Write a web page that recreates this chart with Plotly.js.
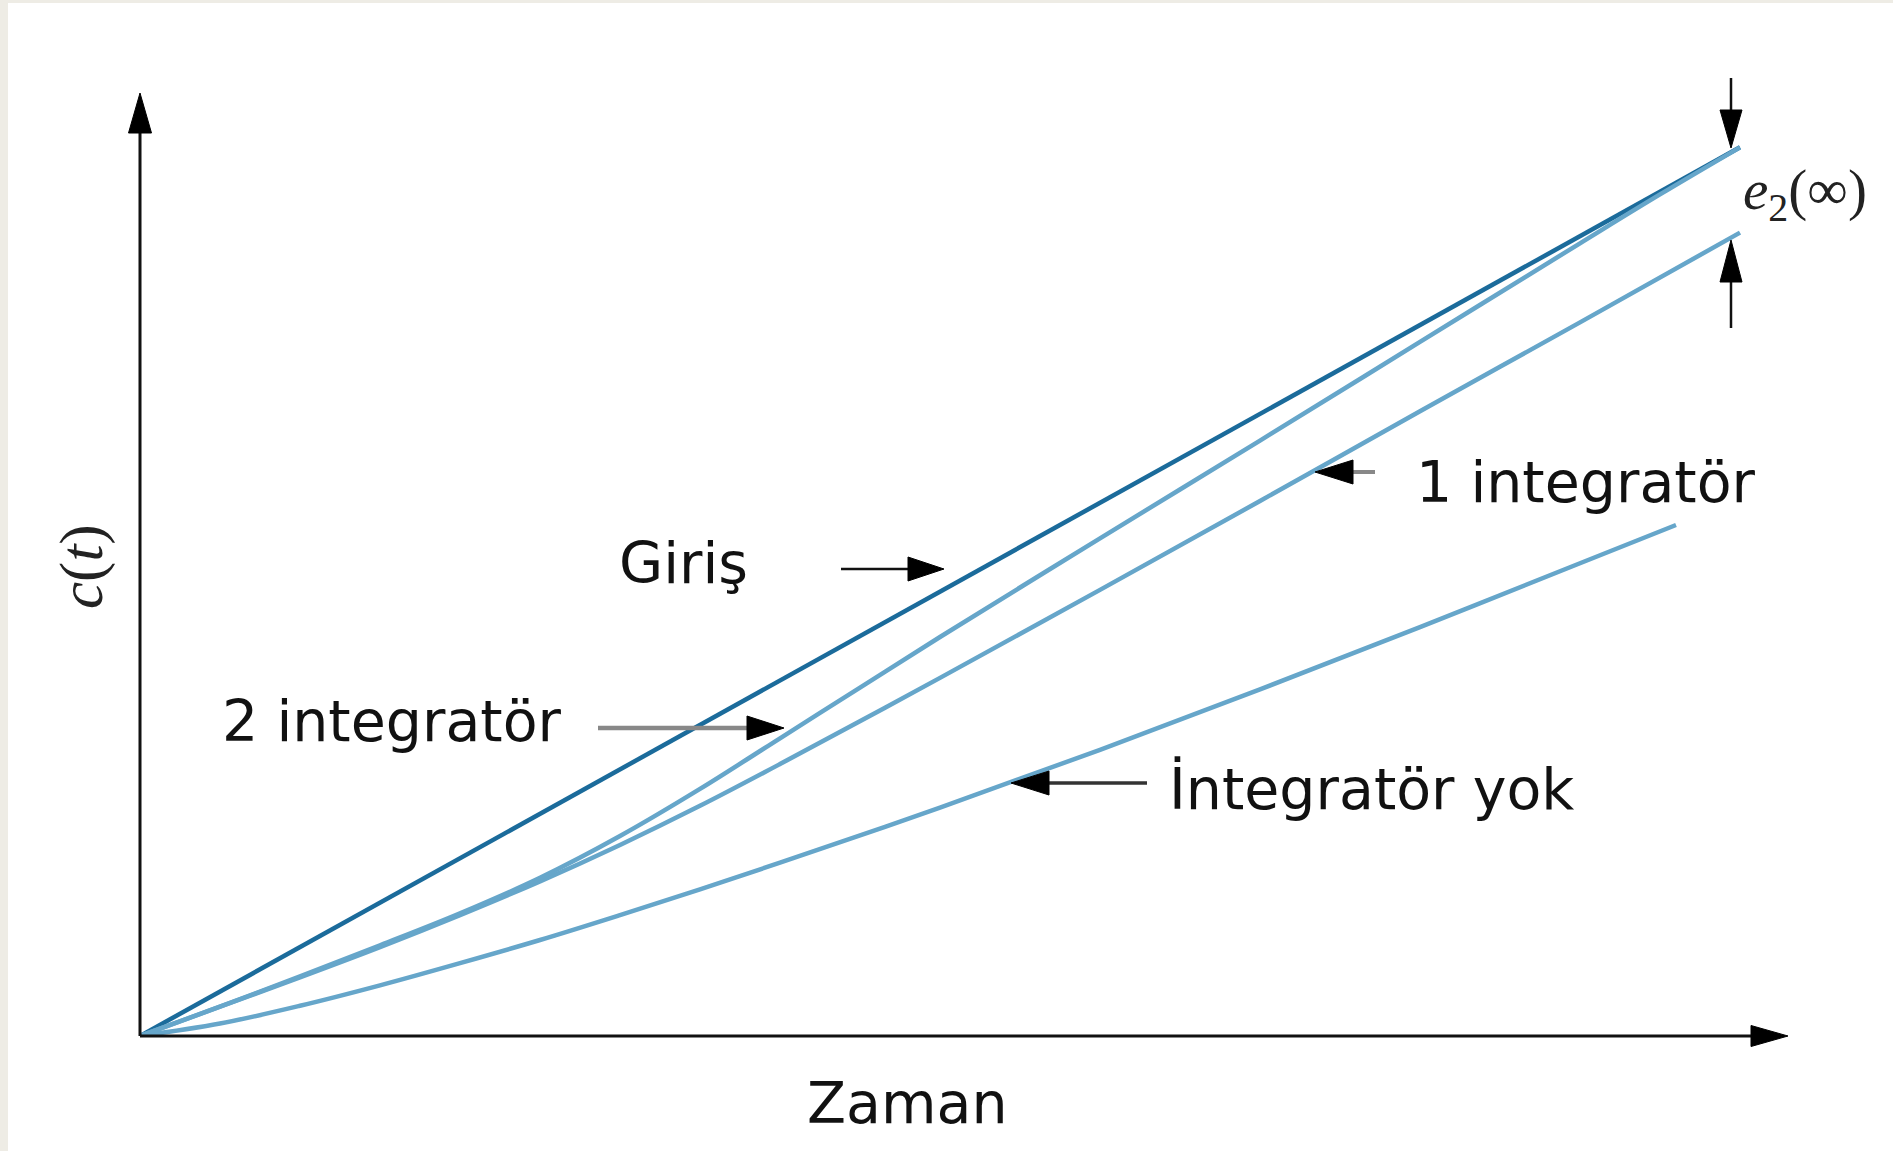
<!DOCTYPE html>
<html><head><meta charset="utf-8">
<script src="https://cdn.plot.ly/plotly-3.0.1.min.js"></script>
<style>html,body{margin:0;padding:0;background:#fff;} #chart{width:1893px;height:1151px;}</style>
</head><body><div id="chart"></div><script>
// ---- data ----
const tValues   = [0, 0.5, 1, 1.5, 2, 2.5, 3, 3.5, 4, 5, 6, 7, 8, 9, 10];
const girisVals = [0, 0.5, 1, 1.5, 2, 2.5, 3, 3.5, 4, 5, 6, 7, 8, 9, 10];
const int1Vals  = [0, 0.33, 0.66, 1.00, 1.36, 1.74, 2.15, 2.59, 3.06, 4.03, 5.02, 6.02, 7.03, 8.03, 9.04];
const tInt2     = [0, 0.5, 1, 1.5, 2, 2.5, 3, 3.5, 4, 4.5, 5, 6, 7, 8, 9, 9.5, 10];
const int2Vals  = [0, 0.33, 0.67, 1.02, 1.38, 1.78, 2.25, 2.78, 3.35, 3.92, 4.49, 5.60, 6.70, 7.81, 8.92, 9.47, 10.0];
const tNoInt    = [0, 0.5, 1, 1.5, 2, 2.5, 3, 3.5, 4, 5, 6, 7, 8, 9, 9.6];
const noIntVals = [0, 0.14, 0.34, 0.57, 0.82, 1.08, 1.36, 1.65, 1.95, 2.57, 3.22, 3.90, 4.60, 5.32, 5.75];

const labels = {giris: "Giriş", int2: "2 integratör", int1: "1 integratör", none: "İntegratör yok",
                xTitle: "Zaman", yTitle: "<i>c</i>(<i>t</i>)", err: "<i>e</i><sub>2</sub>(∞)"};

// ---- layout helpers (page pixels -> paper) ----
const L = 140, R = 1788, T = 94, B = 1036;
const px = x => (x - L) / (R - L);
const py = y => (B - y) / (B - T);
const DARK = "#1b6b9b", LIGHT = "#66a6ca";

const shapes = [];
function seg(x1, y1, x2, y2, color, width) {
  shapes.push({type: "line", xref: "paper", yref: "paper", x0: px(x1), y0: py(y1), x1: px(x2), y1: py(y2),
               line: {color: color, width: width}});
}
function arrow(sx, sy, tx, ty, headLen, half, lineColor, lineWidth) {
  const dx = tx - sx, dy = ty - sy, len = Math.hypot(dx, dy);
  const ux = dx / len, uy = dy / len, nx = -uy, ny = ux;
  const bx = tx - ux * headLen, by = ty - uy * headLen;
  seg(sx, sy, tx - ux * headLen * 0.7, ty - uy * headLen * 0.7, lineColor, lineWidth);
  const p = `M${px(tx)},${py(ty)} L${px(bx + nx * half)},${py(by + ny * half)} L${px(bx - nx * half)},${py(by - ny * half)} Z`;
  shapes.push({type: "path", xref: "paper", yref: "paper", path: p, fillcolor: "#000", line: {color: "#000", width: 1}});
}
// beige frame of the page
shapes.push({type: "rect", xref: "paper", yref: "paper", x0: px(0), x1: px(8), y0: py(1151), y1: py(0), fillcolor: "#eeece5", line: {width: 0}, layer: "below"});
shapes.push({type: "rect", xref: "paper", yref: "paper", x0: px(0), x1: px(1893), y0: py(3), y1: py(0), fillcolor: "#eeece5", line: {width: 0}, layer: "below"});

// axes
arrow(140, 1036, 140, 93, 40, 11.5, "#111", 3);
arrow(140, 1036, 1788, 1036, 37, 10.5, "#111", 3);
// label arrows
arrow(841, 569, 944, 569, 36, 12, "#111", 2.5);
arrow(598, 728, 784, 728, 37, 12, "#888", 4.5);
arrow(1375, 472, 1315, 472, 38, 12, "#888", 4);
arrow(1147, 783, 1011, 783, 38, 12, "#333", 3.5);
arrow(1731, 78, 1731, 148, 38, 11, "#111", 2.5);
arrow(1731, 328, 1731, 240, 42, 11, "#111", 2.5);

const sans = {family: "DejaVu Sans", size: 57, color: "#111"};
const serif = {family: "Liberation Serif", size: 57, color: "#222"};
const serifY = {family: "Liberation Serif", size: 61, color: "#222"};
function ann(text, x, y, xanchor, font, extra) {
  return Object.assign({text: text, xref: "paper", yref: "paper", x: px(x), y: py(y), xanchor: xanchor, yanchor: "middle",
                        showarrow: false, font: font}, extra || {});
}
const annotations = [
  ann(labels.giris, 617, 563, "left", sans),
  ann(labels.int2, 220, 721, "left", sans),
  ann(labels.int1, 1414, 482, "left", sans),
  ann(labels.none, 1167, 789, "left", sans),
  ann(labels.xTitle, 907, 1103, "center", sans),
  ann(labels.err, 1741, 194, "left", serif),
  ann(labels.yTitle, 82, 567, "center", serifY, {textangle: -90})
];

const lineBase = {type: "scatter", mode: "lines", hoverinfo: "skip", showlegend: false};
const traces = [
  Object.assign({}, lineBase, {x: tValues, y: girisVals, line: {color: DARK, width: 4.5}}),
  Object.assign({}, lineBase, {x: tNoInt, y: noIntVals, line: {color: LIGHT, width: 4.5, shape: "spline", smoothing: 1}}),
  Object.assign({}, lineBase, {x: tValues, y: int1Vals, line: {color: LIGHT, width: 4.5, shape: "spline", smoothing: 1}}),
  Object.assign({}, lineBase, {x: tInt2, y: int2Vals, line: {color: LIGHT, width: 4.5, shape: "spline", smoothing: 1}})
];

const axisOff = {showgrid: false, zeroline: false, showline: false, showticklabels: false, ticks: "", fixedrange: true};
const layout = {
  width: 1893, height: 1151,
  margin: {l: L, r: 1893 - R, t: T, b: 1151 - B, pad: 0},
  paper_bgcolor: "#ffffff", plot_bgcolor: "#ffffff",
  xaxis: Object.assign({range: [0, 10.3]}, axisOff),
  yaxis: Object.assign({range: [0, 10.6]}, axisOff),
  shapes: shapes,
  annotations: annotations
};
Plotly.newPlot("chart", traces, layout, {staticPlot: true, displayModeBar: false});
</script></body></html>
